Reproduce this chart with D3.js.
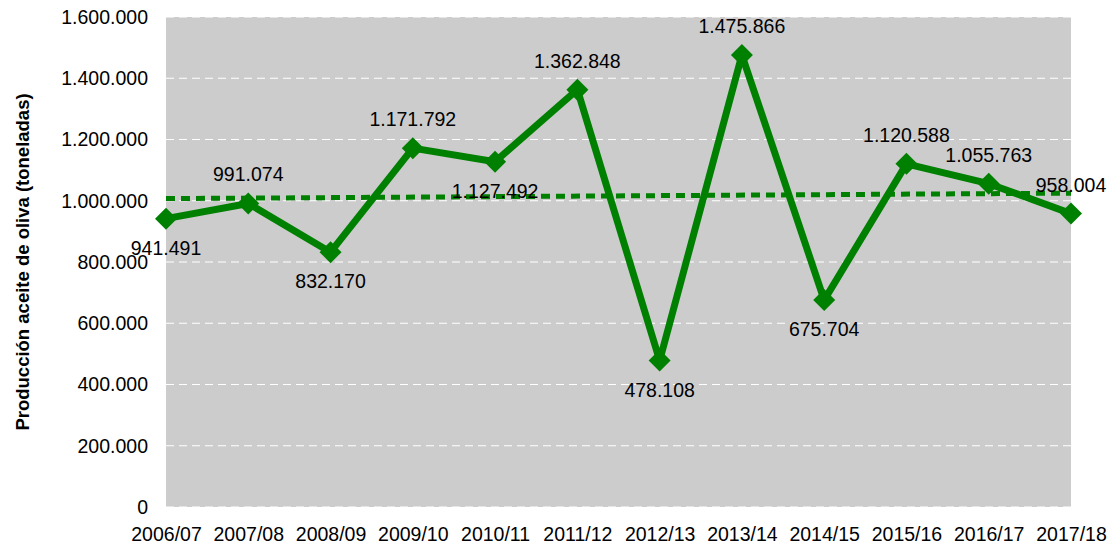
<!DOCTYPE html>
<html>
<head>
<meta charset="utf-8">
<script src="https://cdn.jsdelivr.net/npm/d3@7"></script>
<style>
  body { margin: 0; background: #fff; }
  svg text { font-family: "Liberation Sans", Arial, sans-serif; fill: #000; }
</style>
</head>
<body>
<svg id="chart" width="1112" height="546"></svg>
<script>
// campañas y producción de aceite (toneladas)
campaigns = ["2006/07","2007/08","2008/09","2009/10","2010/11","2011/12","2012/13","2013/14","2014/15","2015/16","2016/17","2017/18"];
production = [941491, 991074, 832170, 1171792, 1127492, 1362848, 478108, 1475866, 675704, 1120588, 1055763, 958004];
// donde va cada etiqueta: arriba o abajo del punto
labelSide = ["below","above","below","above","below","above","below","above","below","above","above","above"];
yTicks = [0, 200000, 400000, 600000, 800000, 1000000, 1200000, 1400000, 1600000];

var svg = d3.select("#chart");
// ojo: "top" es window.top, no usarlo como nombre
var plotL = 166, plotR = 1071, plotT = 17, plotB = 507;
var green = "#008000";

var es = d3.formatLocale({decimal: ",", thousands: ".", grouping: [3], currency: ["", "€"]});
var fmt = es.format(",d");

var x = d3.scalePoint().domain(campaigns).range([plotL, plotR]);
var y = d3.scaleLinear().domain([0, 1600000]).range([plotB, plotT]);

// fondo gris del area
svg.append("rect")
    .attr("x", plotL).attr("y", plotT)
    .attr("width", plotR - plotL).attr("height", plotB - plotT)
    .attr("fill", "#cccccc");

// lineas de cuadricula
svg.selectAll(".grid")
    .data(yTicks)
    .enter()
    .append("line")
    .attr("class", "grid")
    .attr("x1", plotL).attr("x2", plotR)
    .attr("y1", function (d) {return y(d);})
    .attr("y2", function (d) {return y(d);})
    .attr("stroke", "#ffffff")
    .attr("stroke-width", 1.2)
    .attr("stroke-dasharray", "8,5");

// eje y
var yAxis = d3.axisLeft(y).tickValues(yTicks).tickFormat(function (d) {return d == 0 ? "0" : fmt(d);}).tickSize(0).tickPadding(18);
var gy = svg.append("g").attr("transform", "translate(" + plotL + ",0)").call(yAxis);
gy.select(".domain").remove();
gy.selectAll("text").style("font-size", "19.5px").attr("font-family", null);

// eje x
var xAxis = d3.axisBottom(x).tickSize(0).tickPadding(20);
var gx = svg.append("g").attr("transform", "translate(0," + plotB + ")").call(xAxis);
gx.select(".domain").remove();
gx.selectAll("text").style("font-size", "19.5px").attr("font-family", null);

// titulo eje y
svg.append("text")
    .attr("transform", "translate(29," + ((plotT + plotB) / 2) + ") rotate(-90)")
    .attr("text-anchor", "middle")
    .style("font-size", "18.5px")
    .style("font-weight", "bold")
    .text("Producción aceite de oliva (toneladas)");

// serie
var line = d3.line()
    .x(function (d, i) {return x(campaigns[i]);})
    .y(function (d) {return y(d);});

svg.append("path")
    .datum(production)
    .attr("d", line)
    .attr("fill", "none")
    .attr("stroke", green)
    .attr("stroke-width", 7)
    .attr("stroke-linejoin", "round");

// linea de tendencia (regresion lineal, como la de Excel)
var n = production.length;
var mx = d3.mean(production, function (d, i) {return i;});
var my = d3.mean(production);
var sxy = d3.sum(production, function (d, i) {return (i - mx) * (d - my);});
var sxx = d3.sum(production, function (d, i) {return (i - mx) * (i - mx);});
var slope = sxy / sxx;
var trend = [my - slope * mx, my + slope * (n - 1 - mx)];

svg.append("line")
    .attr("x1", x(campaigns[0])).attr("x2", x(campaigns[n - 1]))
    .attr("y1", y(trend[0])).attr("y2", y(trend[1]))
    .attr("stroke", green)
    .attr("stroke-width", 5)
    .attr("stroke-dasharray", "9,6");

// marcadores rombo
var h = 11;
svg.selectAll(".mark")
    .data(production)
    .enter()
    .append("path")
    .attr("class", "mark")
    .attr("d", "M0," + (-h) + "L" + h + ",0L0," + h + "L" + (-h) + ",0Z")
    .attr("transform", function (d, i) {return "translate(" + x(campaigns[i]) + "," + y(d) + ")";})
    .attr("fill", green);

// etiquetas de datos
svg.selectAll(".lbl")
    .data(production)
    .enter()
    .append("text")
    .attr("class", "lbl")
    .attr("x", function (d, i) {return x(campaigns[i]);})
    .attr("y", function (d, i) {return y(d) + (labelSide[i] == "above" ? -22 : 36);})
    .attr("text-anchor", "middle")
    .style("font-size", "19.5px")
    .text(function (d) {return fmt(d);});
</script>
</body>
</html>
